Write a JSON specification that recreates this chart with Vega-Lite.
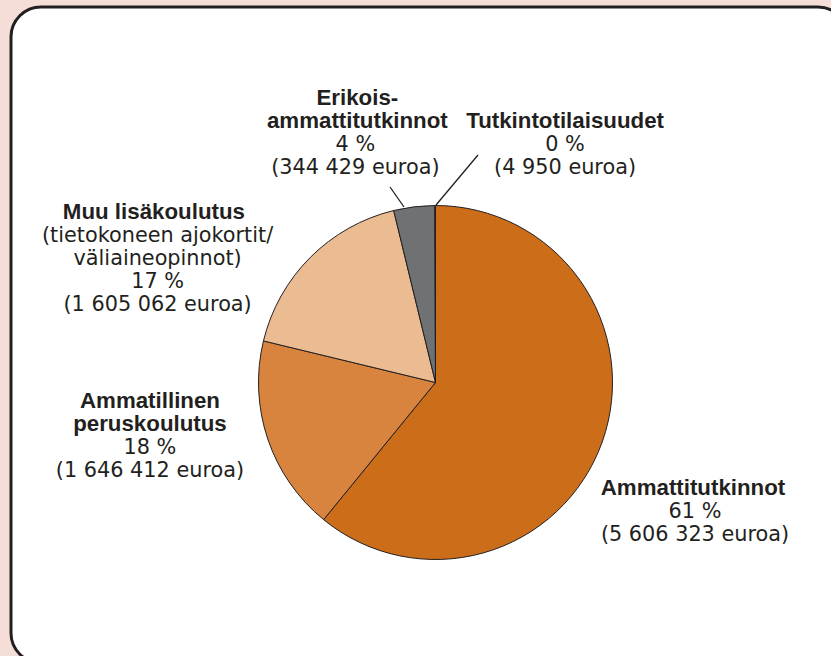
{
  "$schema": "https://vega.github.io/schema/vega-lite/v6.json",
  "width": 820,
  "height": 649,
  "autosize": {"type": "none"},
  "padding": {"left": 11, "top": 7, "right": 0, "bottom": 0},
  "background": "#f4ded7",
  "config": {
    "view": {"stroke": null},
    "text": {"fontSize": 21.5, "lineHeight": 23, "fill": "#231f20", "lineBreak": "\n"}
  },
  "params": [
    {"name": "cx", "expr": "width/2 + 14.5"},
    {"name": "cy", "expr": "height/2 + 51"}
  ],
  "data": {
    "values": [
      {"jarjestys": 1, "kategoria": "Ammattitutkinnot", "euroa": 5606323, "otsikko": "Ammattitutkinnot", "selite": "61 %\n(5 606 323 euroa)"},
      {"jarjestys": 2, "kategoria": "Ammatillinen peruskoulutus", "euroa": 1646412, "otsikko": "Ammatillinen\nperuskoulutus", "selite": "18 %\n(1 646 412 euroa)"},
      {"jarjestys": 3, "kategoria": "Muu lisäkoulutus", "euroa": 1605062, "otsikko": "Muu lisäkoulutus", "selite": "(tietokoneen ajokortit/\nväliaineopinnot)\n17 %\n(1 605 062 euroa)"},
      {"jarjestys": 4, "kategoria": "Erikoisammattitutkinnot", "euroa": 344429, "otsikko": "Erikois-\nammattitutkinnot", "selite": "4 %\n(344 429 euroa)"},
      {"jarjestys": 5, "kategoria": "Tutkintotilaisuudet", "euroa": 4950, "otsikko": "Tutkintotilaisuudet", "selite": "0 %\n(4 950 euroa)"}
    ]
  },
  "layer": [
    {
      "data": {"values": [{"paneeli": "tausta"}]},
      "mark": {"type": "rect", "fill": "white", "stroke": "#231f20", "strokeWidth": 3, "cornerRadius": 30, "x": 0, "y": 0, "x2": {"expr": "width + 17"}, "y2": {"expr": "height + 7"}},
      "encoding": {}
    },
    {
      "mark": {"type": "arc", "outerRadius": 177, "x": {"expr": "cx"}, "y": {"expr": "cy"}, "stroke": "#231f20", "strokeWidth": 1},
      "encoding": {
        "theta": {"field": "euroa", "type": "quantitative", "stack": true},
        "order": {"field": "jarjestys", "type": "quantitative"},
        "color": {
          "field": "kategoria", "type": "nominal", "legend": null,
          "scale": {
            "domain": ["Ammattitutkinnot", "Ammatillinen peruskoulutus", "Muu lisäkoulutus", "Erikoisammattitutkinnot", "Tutkintotilaisuudet"],
            "range": ["#cc6d1a", "#d8843e", "#ebbb92", "#707173", "#3a3a3a"]
          }
        }
      }
    },
    {
      "mark": {
        "type": "text", "radius": 250, "x": {"expr": "cx"}, "y": {"expr": "cy"},
        "font": "Liberation Sans", "fontSize": 22.3, "fontWeight": "bold", "align": "center", "baseline": "alphabetic",
        "dx": {"expr": "datum.jarjestys == 1 ? 22 : datum.jarjestys == 2 ? -48.6 : datum.jarjestys == 3 ? -104.7 : datum.jarjestys == 4 ? -48 : 130"},
        "dy": {"expr": "datum.jarjestys == 1 ? 29 : datum.jarjestys == 2 ? -54 : datum.jarjestys == 3 ? 13 : datum.jarjestys == 4 ? -29 : -4.5"}
      },
      "encoding": {
        "theta": {"field": "euroa", "type": "quantitative", "stack": true},
        "order": {"field": "jarjestys", "type": "quantitative"},
        "text": {"field": "otsikko", "type": "nominal"}
      }
    },
    {
      "mark": {
        "type": "text", "radius": 250, "x": {"expr": "cx"}, "y": {"expr": "cy"},
        "font": "DejaVu Sans", "fontSize": 20.8, "fontWeight": "normal", "align": "center", "baseline": "alphabetic",
        "dx": {"expr": "datum.jarjestys == 1 ? 24 : datum.jarjestys == 2 ? -48.6 : datum.jarjestys == 3 ? -101 : datum.jarjestys == 4 ? -50 : 130"},
        "dy": {"expr": "datum.jarjestys == 1 ? 52 : datum.jarjestys == 2 ? -8 : datum.jarjestys == 3 ? 36 : datum.jarjestys == 4 ? 17 : 18.5"}
      },
      "encoding": {
        "theta": {"field": "euroa", "type": "quantitative", "stack": true},
        "order": {"field": "jarjestys", "type": "quantitative"},
        "text": {"field": "selite", "type": "nominal"}
      }
    },
    {
      "transform": [{"filter": "datum.jarjestys >= 4"}],
      "mark": {"type": "rule", "stroke": "#231f20", "strokeWidth": 1.3},
      "encoding": {
        "x": {"value": {"expr": "datum.jarjestys == 4 ? cx - 45.5 : cx + 42.5"}},
        "y": {"value": {"expr": "datum.jarjestys == 4 ? cy - 195.5 : cy - 227.5"}},
        "x2": {"value": {"expr": "datum.jarjestys == 4 ? cx - 31.5 : cx + 0.5"}},
        "y2": {"value": {"expr": "datum.jarjestys == 4 ? cy - 175.5 : cy - 177.5"}}
      }
    }
  ]
}
